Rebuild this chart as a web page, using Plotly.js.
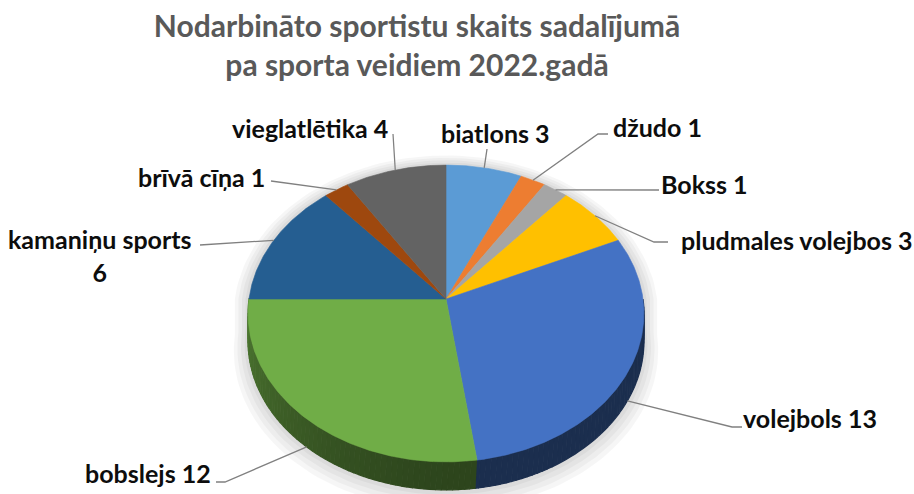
<!DOCTYPE html>
<html>
<head>
<meta charset="utf-8">
<script src="https://cdn.plot.ly/plotly-3.0.1.min.js"></script>
<style>html,body{margin:0;padding:0;background:#fff;}#chart{width:914px;height:494px;}</style>
</head>
<body>
<div id="chart"></div>
<script>
// ---- data ----
const categories = ['biatlons','džudo','Bokss','pludmales volejbos','volejbols','bobslejs','kamaniņu sports','brīvā cīņa','vieglatlētika'];
const values = [3, 1, 1, 3, 13, 12, 6, 1, 4];
const colors = ['#5B9BD5','#ED7D31','#A5A5A5','#FFC000','#4472C4','#70AD47','#255E91','#9E480E','#636363'];
const labelTexts = ['biatlons 3','džudo 1','Bokss 1','pludmales volejbos 3','volejbols 13','bobslejs 12','kamaniņu sports<br>6','brīvā cīņa 1','vieglatlētika 4'];

// ---- layout / geometry (pixel space) ----
const W = 914, H = 494;
const CX = 446, CY = 299, RX = 197, RY = 147, K = 0.0976, DEPTH = 28;
// label placement: text centre, line start at label, optional elbow
const labelPos = [
  {x:495, y:133, lx:487, ly:149},
  {x:657, y:127, lx:608, ly:134, ex:598, ey:134},
  {x:704, y:184, lx:659, ly:190},
  {x:797, y:240, lx:668, ly:242, ex:654, ey:242},
  {x:810, y:418, lx:742, ly:427, ex:732, ey:427},
  {x:148, y:473, lx:216, ly:482, ex:225, ey:482},
  {x:100, y:255, lx:200, ly:245},
  {x:201, y:177, lx:271, ly:181},
  {x:310, y:128, lx:393, ly:134}
];

function rim(deg, scale) {
  scale = scale || 1;
  const t = deg * Math.PI / 180;
  const u = Math.sin(t), v = -Math.cos(t);
  const w = 1 - K * v;
  return [CX + scale * RX * u / w, CY + scale * RY * v / w];
}
function shade(hex, f) {
  const n = parseInt(hex.slice(1), 16);
  const r = Math.round(((n >> 16) & 255) * f), g = Math.round(((n >> 8) & 255) * f), b = Math.round((n & 255) * f);
  return 'rgb(' + r + ',' + g + ',' + b + ')';
}

const total = values.reduce((a, b) => a + b, 0);
const traces = [];

// soft shadow
for (let i = 4; i >= 1; i--) {
  const s = 1 + i * 0.018;
  const xs = [], ys = [];
  for (let a = -90; a <= 90; a += 2) { const p = rim(a, s); xs.push(p[0]); ys.push(p[1]); }
  for (let a = 90; a <= 270; a += 2) { const p = rim(a, s); xs.push(p[0]); ys.push(p[1] + DEPTH + i * 2); }
  traces.push({type:'scatter', mode:'lines', x:xs, y:ys, fill:'toself', fillcolor:'rgba(0,0,0,0.035)',
    line:{width:0, color:'rgba(0,0,0,0)'}, hoverinfo:'skip', showlegend:false});
}

// slice angles
let cum = 0;
const angles = values.map(v => { const a0 = cum / total * 360; cum += v; return [a0, cum / total * 360]; });

// side walls
angles.forEach((ang, i) => {
  const lo = Math.max(ang[0], 90), hi = Math.min(ang[1], 270);
  if (hi <= lo) return;
  const step = 1.5;
  for (let a = lo; a < hi; a += step) {
    const b = Math.min(a + step + 0.4, hi + 0.5);
    const mid = (a + b) / 2;
    const f = mid < 180 ? 0.4 : 0.4 + 0.3 * Math.pow((mid - 180) / 90, 1.3);
    const xs = [], ys = [];
    for (let t = a; t <= b + 1e-9; t += 0.5) { const p = rim(t); xs.push(p[0]); ys.push(p[1]); }
    for (let t = b; t >= a - 1e-9; t -= 0.5) { const p = rim(t); xs.push(p[0]); ys.push(p[1] + DEPTH); }
    traces.push({type:'scatter', mode:'lines', x:xs, y:ys, fill:'toself', fillcolor:shade(colors[i], f),
      line:{width:1.2, color:shade(colors[i], f)}, hoverinfo:'skip', showlegend:false});
  }
});

// top faces
angles.forEach((ang, i) => {
  const xs = [CX], ys = [CY];
  for (let a = ang[0]; a <= ang[1] + 1e-9; a += 0.5) { const p = rim(a); xs.push(p[0]); ys.push(p[1]); }
  const pe = rim(ang[1]); xs.push(pe[0]); ys.push(pe[1]);
  xs.push(CX); ys.push(CY);
  traces.push({type:'scatter', mode:'lines', x:xs, y:ys, fill:'toself', fillcolor:colors[i],
    line:{width:0.6, color:colors[i]}, name:categories[i], text:labelTexts[i].replace('<br>',' '),
    hoverinfo:'text', showlegend:false});
});

// leader lines
angles.forEach((ang, i) => {
  const mid = (ang[0] + ang[1]) / 2;
  const p = rim(mid);
  const front = mid > 90 && mid < 270;
  const anchor = [p[0], p[1] + (front ? DEPTH : 0)];
  const L = labelPos[i];
  const xs = [L.lx], ys = [L.ly];
  if (L.ex !== undefined) { xs.push(L.ex); ys.push(L.ey); }
  xs.push(anchor[0]); ys.push(anchor[1]);
  traces.push({type:'scatter', mode:'lines', x:xs, y:ys, line:{width:1.3, color:'#808080'},
    hoverinfo:'skip', showlegend:false});
});

const annotations = labelTexts.map((t, i) => ({
  x: labelPos[i].x, y: labelPos[i].y, xref:'x', yref:'y', text:t, showarrow:false,
  xanchor:'center', yanchor:'middle',
  font:{family:'Lato, sans-serif', size:25, color:'#0d0d0d', weight:'bold'}
}));

const layout = {
  width: W, height: H,
  margin:{l:0, r:0, t:0, b:0},
  paper_bgcolor:'#ffffff', plot_bgcolor:'#ffffff',
  xaxis:{range:[0, W], visible:false, fixedrange:true},
  yaxis:{range:[H, 0], visible:false, fixedrange:true},
  title:{text:'Nodarbināto sportistu skaits sadalījumā<br>pa sporta veidiem 2022.gadā',
    font:{family:'Lato, sans-serif', size:30, color:'#595959', weight:'bold'},
    x:417 / W, xanchor:'center', xref:'paper', y:1 - 37 / H, yanchor:'top', yref:'container'},
  annotations: annotations,
  showlegend:false
};

Plotly.newPlot('chart', traces, layout, {displayModeBar:false, staticPlot:true});
</script>
</body>
</html>
